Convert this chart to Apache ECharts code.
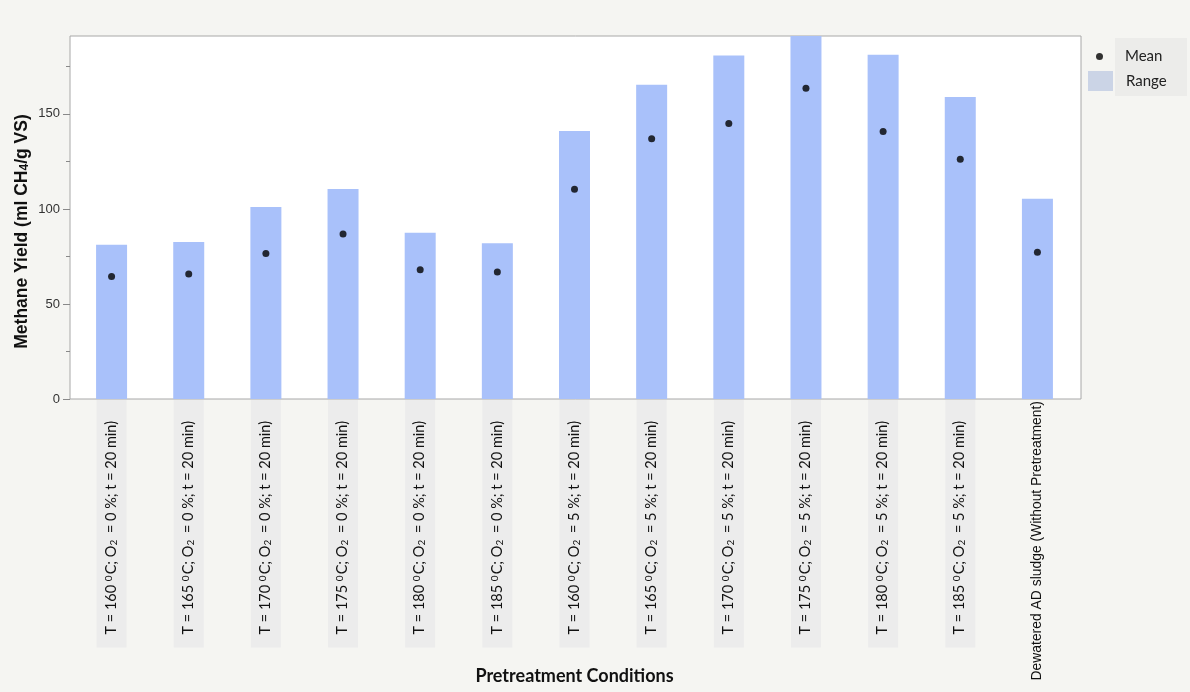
<!DOCTYPE html>
<html>
<head>
<meta charset="utf-8">
<script src="https://cdn.jsdelivr.net/npm/echarts@6/dist/echarts.min.js"></script>
<style>
  html, body { margin: 0; padding: 0; background: #f5f5f2; }
  #chart { width: 1190px; height: 692px; }
</style>
</head>
<body>
<div id="chart"></div>
<script>
// Pretreatment conditions (x axis categories)
const categories = [
  'T = 160 ⁰C; O₂ = 0 %; t = 20 min)',
  'T = 165 ⁰C; O₂ = 0 %; t = 20 min)',
  'T = 170 ⁰C; O₂ = 0 %; t = 20 min)',
  'T = 175 ⁰C; O₂ = 0 %; t = 20 min)',
  'T = 180 ⁰C; O₂ = 0 %; t = 20 min)',
  'T = 185 ⁰C; O₂ = 0 %; t = 20 min)',
  'T = 160 ⁰C; O₂ = 5 %; t = 20 min)',
  'T = 165 ⁰C; O₂ = 5 %; t = 20 min)',
  'T = 170 ⁰C; O₂ = 5 %; t = 20 min)',
  'T = 175 ⁰C; O₂ = 5 %; t = 20 min)',
  'T = 180 ⁰C; O₂ = 5 %; t = 20 min)',
  'T = 185 ⁰C; O₂ = 5 %; t = 20 min)',
  'Dewatered AD sludge (Without Pretreatment)'
];

// Upper end of the measured range, ml CH4 / g VS
const rangeMax = [81.2, 82.6, 101.0, 110.5, 87.5, 81.9, 141.0, 165.3, 180.7, 191.0, 181.2, 158.9, 105.3];

// Mean methane yield, ml CH4 / g VS
const meanValues = [64.5, 65.8, 76.6, 86.8, 68.0, 66.8, 110.3, 137.0, 144.9, 163.5, 140.7, 126.1, 77.2];

// Y axis scale and tick positions
const yMin = 0;
const yMax = 191;
const yInterval = 50;
const yMajorTicks = [0, 50, 100, 150];
const yMinorTicks = [25, 75, 125, 175];

const chart = echarts.init(document.getElementById('chart'));

const labelFont = 'Lato, "Liberation Sans", sans-serif';
const sansFont = '"Liberation Sans", Arial, sans-serif';

// The untreated reference gets a plain, smaller label without a tile
const axisData = categories.map(function (c, i) {
  if (i === categories.length - 1) {
    return {
      value: c,
      textStyle: {
        fontSize: 13.9,
        fontFamily: sansFont,
        backgroundColor: 'transparent',
        padding: [0, 1, 0, 0]
      }
    };
  }
  return c;
});

function richLabel(v) {
  return v.split('⁰').join('{sup|0}').split('₂').join('{sub|2}');
}

const option = {
  backgroundColor: '#f5f5f2',
  animation: false,
  grid: {
    left: 73, right: 114, top: 36, bottom: 293,
    containLabel: false,
    outerBoundsMode: 'none'
  },
  graphic: [
    {
      type: 'rect',
      z: -10,
      shape: { x: 70, y: 36, width: 1011, height: 363 },
      style: { fill: '#ffffff', stroke: '#a8a8a8', lineWidth: 1 }
    },
    {
      type: 'rect',
      z: -10,
      shape: { x: 1115, y: 38, width: 72, height: 58 },
      style: { fill: '#ececea' }
    }
  ],
  legend: [
    {
      data: ['Mean'],
      left: 1096,
      top: 49,
      icon: 'circle',
      itemWidth: 7,
      itemHeight: 7,
      selectedMode: false,
      padding: 0,
      textStyle: { fontSize: 15, fontFamily: labelFont, color: '#222', padding: [0, 0, 0, 17] }
    },
    {
      data: [{ name: 'Range', itemStyle: { color: '#cbd4e6' } }],
      left: 1088,
      top: 71,
      icon: 'rect',
      itemWidth: 25,
      itemHeight: 20,
      selectedMode: false,
      padding: 0,
      textStyle: { fontSize: 15, fontFamily: labelFont, color: '#222', padding: [0, 0, 0, 8] }
    }
  ],
  xAxis: {
    type: 'category',
    data: axisData,
    axisLine: { show: false },
    axisTick: { show: false },
    axisLabel: {
      interval: 0,
      rotate: 90,
      margin: 1,
      fontSize: 14.5,
      fontFamily: labelFont,
      color: '#111',
      backgroundColor: '#ececec',
      padding: [7, 21, 8, 13],
      formatter: richLabel,
      rich: {
        sup: { fontSize: 10, fontFamily: labelFont, color: '#111', verticalAlign: 'top', padding: [0, 1, 0, 0] },
        sub: { fontSize: 10, fontFamily: labelFont, color: '#111', verticalAlign: 'bottom', padding: [0, 3, 0, 0] }
      }
    },
    name: 'Pretreatment Conditions',
    nameLocation: 'middle',
    nameGap: 268,
    nameMoveOverlap: false,
    nameTextStyle: { fontSize: 18, fontWeight: 'bold', fontFamily: labelFont, color: '#111' }
  },
  yAxis: [
    {
      type: 'value',
      min: yMin,
      max: yMax,
      interval: yInterval,
      offset: 3,
      splitLine: { show: false },
      axisLine: { show: false },
      axisTick: { show: true, length: 7, customValues: yMajorTicks, lineStyle: { color: '#888' } },
      axisLabel: {
        margin: 10,
        fontSize: 13,
        fontFamily: sansFont,
        color: '#333',
        customValues: yMajorTicks
      },
      name: '{t|Methane Yield (ml CH}{s|4}{t|/g VS)}',
      nameLocation: 'middle',
      nameGap: 39,
      nameMoveOverlap: false,
      nameTextStyle: {
        padding: [0, 28, 0, 0],
        rich: {
          t: { fontSize: 17.5, fontWeight: 'bold', fontFamily: sansFont, color: '#111' },
          s: { fontSize: 12, fontWeight: 'bold', fontFamily: sansFont, color: '#111', verticalAlign: 'bottom' }
        }
      }
    },
    {
      // minor ticks only
      type: 'value',
      position: 'left',
      min: yMin,
      max: yMax,
      interval: yInterval,
      offset: 3,
      splitLine: { show: false },
      axisLine: { show: false },
      axisTick: { show: true, length: 4, customValues: yMinorTicks, lineStyle: { color: '#888' } },
      axisLabel: { show: false }
    }
  ],
  series: [
    {
      name: 'Range',
      type: 'bar',
      data: rangeMax,
      barWidth: 31,
      itemStyle: { color: '#a9c1fa' },
      z: 2
    },
    {
      name: 'Mean',
      type: 'scatter',
      data: meanValues,
      symbol: 'circle',
      symbolSize: 7,
      itemStyle: { color: '#000000' },
      z: 3
    }
  ]
};

chart.setOption(option);
</script>
</body>
</html>
